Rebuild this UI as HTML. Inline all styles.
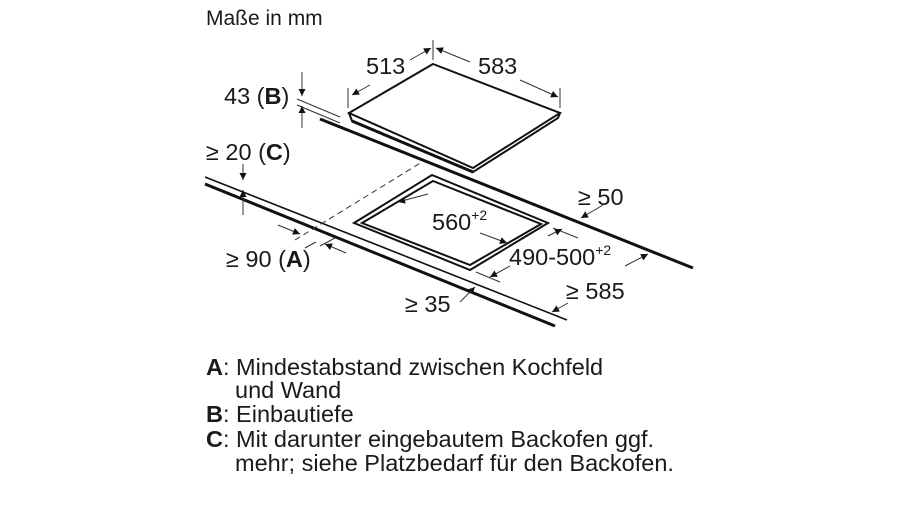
<!DOCTYPE html>
<html><head><meta charset="utf-8"><style>
html,body{margin:0;padding:0;background:#fff;}
svg{display:block;}
text{font-family:"Liberation Sans",Arial,sans-serif;fill:#1a1a1a;}
</style></head><body>
<svg width="900" height="506" viewBox="0 0 900 506" xmlns="http://www.w3.org/2000/svg">
<defs>
<marker id="a" viewBox="0 0 10 10" refX="10" refY="5" markerWidth="9" markerHeight="7" orient="auto-start-reverse" markerUnits="userSpaceOnUse"><path d="M0,0 L10,5 L0,10 z" fill="#111"/></marker>
</defs>
<text x="206" y="25" font-size="21">Maße in mm</text>

<line x1="320" y1="119" x2="693" y2="268" stroke="#111" stroke-width="3"/>
<line x1="205" y1="177" x2="567" y2="320" stroke="#111" stroke-width="1.6"/>
<line x1="205" y1="184" x2="555" y2="326" stroke="#111" stroke-width="3"/>
<line x1="295" y1="240" x2="422" y2="162" stroke="#333" stroke-width="1" stroke-dasharray="6,4"/>

<polygon points="433,64 560,113 473,168 349,113" fill="#fff" stroke="#111" stroke-width="2"/>
<polyline points="349,113 352,121 473,172 558,118 560,113" fill="none" stroke="#111" stroke-width="2"/>
<line x1="352" y1="121" x2="473" y2="172" stroke="#111" stroke-width="3"/>

<polygon points="432,175 548,223 470,270 354,223" fill="none" stroke="#111" stroke-width="2"/>
<polygon points="433,181 541,224 470,265 362,223" fill="none" stroke="#111" stroke-width="2"/>

<g stroke="#333" stroke-width="1" fill="none">
<line x1="433" y1="40" x2="433" y2="60"/>
<line x1="348" y1="88" x2="348" y2="108"/>
<line x1="560" y1="88" x2="560" y2="108"/>
<line x1="352" y1="95" x2="370" y2="85" marker-start="url(#a)"/>
<line x1="410" y1="60" x2="431" y2="48" marker-end="url(#a)"/>
<line x1="436" y1="48" x2="470" y2="62" marker-start="url(#a)"/>
<line x1="520" y1="80" x2="558" y2="97" marker-end="url(#a)"/>
<line x1="297" y1="99" x2="340" y2="117"/>
<line x1="297" y1="105" x2="340" y2="123"/>
<line x1="302" y1="72" x2="302" y2="96" marker-end="url(#a)"/>
<line x1="302" y1="128" x2="302" y2="106" marker-end="url(#a)"/>
<line x1="243" y1="164" x2="243" y2="180" marker-end="url(#a)"/>
<line x1="243" y1="215" x2="243" y2="190" marker-end="url(#a)"/>
<line x1="278" y1="225" x2="300" y2="234" marker-end="url(#a)"/>
<line x1="346" y1="253" x2="325" y2="244" marker-end="url(#a)"/>
<line x1="316" y1="242" x2="305" y2="248"/>
<line x1="335" y1="238" x2="320" y2="246"/>
<line x1="428" y1="194" x2="398" y2="202" marker-end="url(#a)"/>
<line x1="480" y1="233" x2="507" y2="243" marker-end="url(#a)"/>
<line x1="553" y1="228" x2="578" y2="238"/>
<line x1="476" y1="272" x2="500" y2="282"/>
<line x1="548" y1="236" x2="562" y2="229" marker-end="url(#a)"/>
<line x1="510" y1="266" x2="490" y2="277" marker-end="url(#a)"/>
<line x1="603" y1="205" x2="581" y2="218" marker-end="url(#a)"/>
<line x1="625" y1="266" x2="648" y2="254" marker-end="url(#a)"/>
<line x1="568" y1="303" x2="552" y2="312" marker-end="url(#a)"/>
<line x1="460" y1="302" x2="475" y2="287" marker-end="url(#a)"/>
</g>

<g font-size="23.5">
<text x="366" y="74">513</text>
<text x="478" y="74">583</text>
<text x="224" y="104">43 (<tspan font-weight="bold">B</tspan>)</text>
<text x="206" y="160">≥ 20 (<tspan font-weight="bold">C</tspan>)</text>
<text x="578" y="205">≥ 50</text>
<text x="432" y="230">560<tspan font-size="14" dy="-10">+2</tspan></text>
<text x="509" y="265">490-500<tspan font-size="14" dy="-10">+2</tspan></text>
<text x="226" y="267">≥ 90 (<tspan font-weight="bold">A</tspan>)</text>
<text x="566" y="299">≥ 585</text>
<text x="405" y="312">≥ 35</text>
</g>

<g font-size="23.5">
<text x="206" y="375"><tspan font-weight="bold">A</tspan>: Mindestabstand zwischen Kochfeld</text>
<text x="235" y="398">und Wand</text>
<text x="206" y="422"><tspan font-weight="bold">B</tspan>: Einbautiefe</text>
<text x="206" y="447"><tspan font-weight="bold">C</tspan>: Mit darunter eingebautem Backofen ggf.</text>
<text x="235" y="471">mehr; siehe Platzbedarf für den Backofen.</text>
</g>
</svg>
</body></html>
